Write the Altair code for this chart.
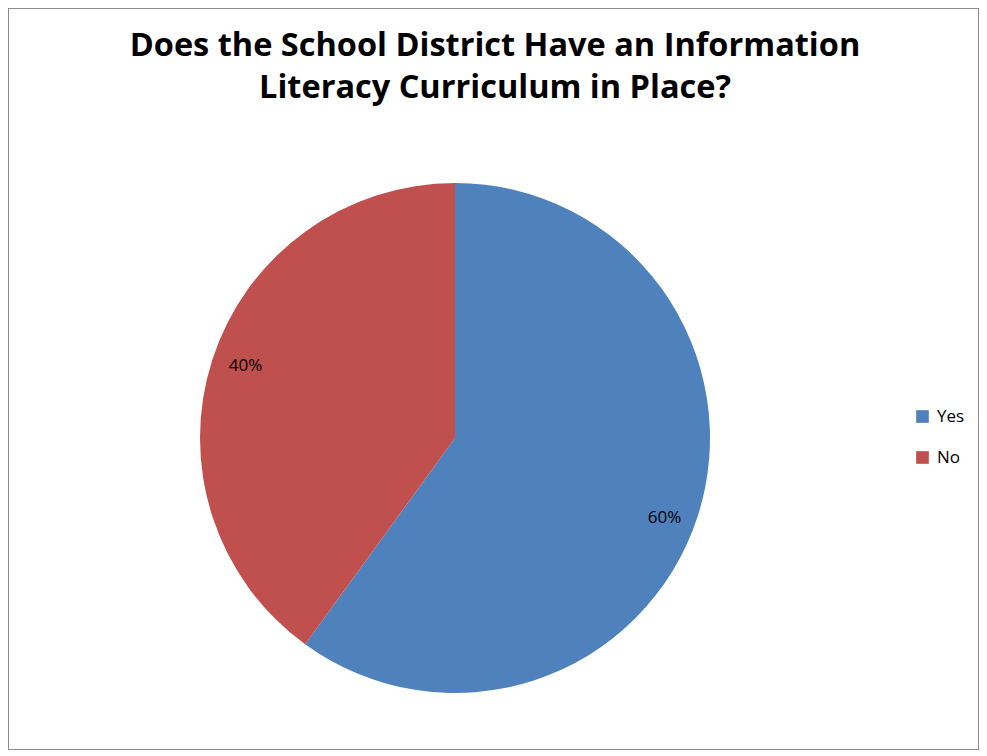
import altair as alt
import pandas as pd

categories = ["Yes", "No"]
values = [60, 40]
labels = ["60%", "40%"]
title_lines = ["Does the School District Have an Information", "Literacy Curriculum in Place?"]
colors = ["#4F81BD", "#C0504D"]

df = pd.DataFrame({"category": categories, "value": values, "label": labels, "order": [0, 1]})
tdf = pd.DataFrame({"line": title_lines, "row": [0, 1]})

CX, CY, R = 447, 430, 255

base = alt.Chart(df).encode(
    theta=alt.Theta("value:Q", stack=True),
    order=alt.Order("order:Q"),
)

pie = base.mark_arc(outerRadius=R, stroke=None).encode(
    x=alt.value(CX), y=alt.value(CY),
    color=alt.Color(
        "category:N",
        scale=alt.Scale(domain=categories, range=colors),
        sort=categories,
        legend=alt.Legend(
            title=None, orient="none", legendX=906, legendY=400,
            symbolType="square", symbolSize=160, symbolStrokeWidth=0,
            labelFont="Open Sans", labelFontSize=17, labelColor="#000000",
            rowPadding=23, labelOffset=6,
        ),
    ),
)

text = base.mark_text(radius=223, thetaOffset=0.035, dy=4, font="Open Sans", fontSize=17,
                      color="#000000").encode(
    x=alt.value(CX), y=alt.value(CY),
    text="label:N",
)

title = alt.Chart(tdf).mark_text(
    font="Open Sans", fontWeight="bold", fontSize=32.5, color="#000000", baseline="alphabetic"
).encode(
    x=alt.value(487),
    y=alt.Y("row:Q", scale=alt.Scale(domain=[0, 1], range=[48, 90]), axis=None),
    text="line:N",
)

chart = alt.layer(pie, text, title).properties(
    width=971, height=742, padding=0, autosize="none",
).configure_view(stroke="#8c8c8c", strokeWidth=2)

chart.save("out.html", embed_options={"renderer": "svg", "actions": False})
